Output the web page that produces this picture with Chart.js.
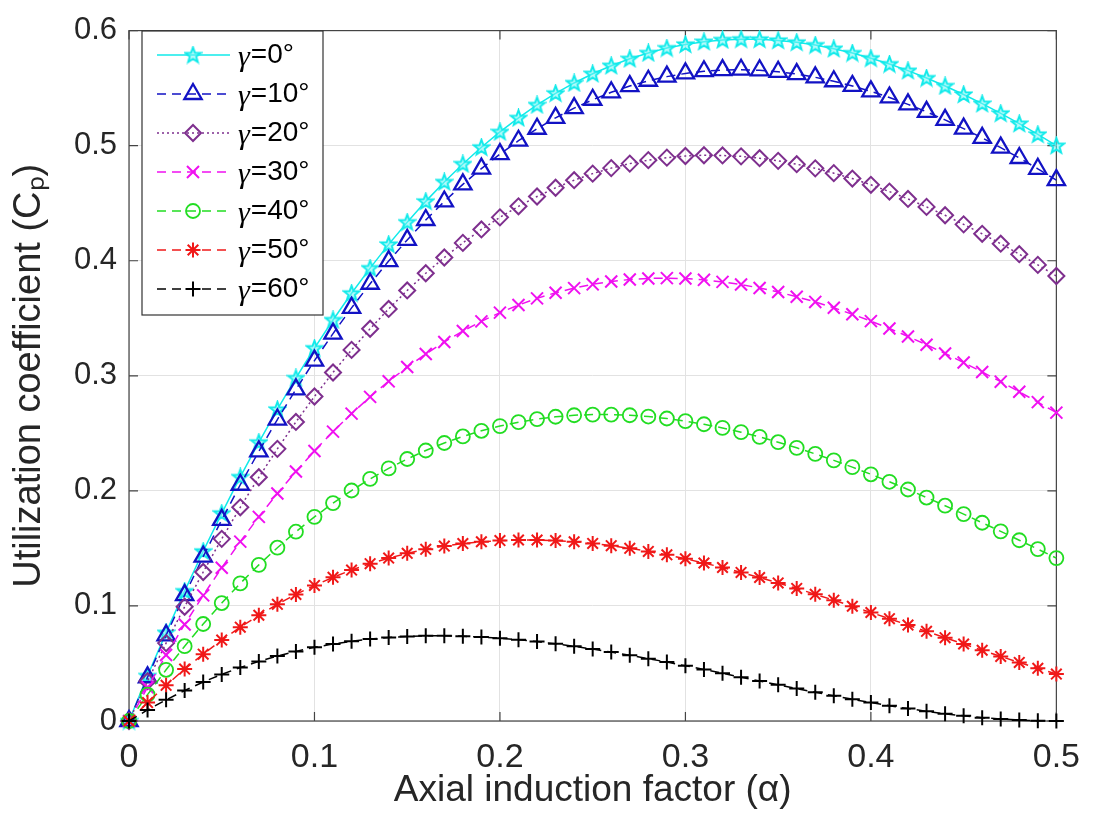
<!DOCTYPE html>
<html><head><meta charset="utf-8">
<script src="https://cdn.jsdelivr.net/npm/chart.js@4.4.1/dist/chart.umd.min.js"></script>
<style>html,body{margin:0;padding:0;background:#fff}#wrap{width:1096px;height:816px}</style>
</head><body><div id="wrap"><canvas id="c" width="1096" height="816"></canvas></div>
<script>
// ---- data ----
const alpha = [0,0.01,0.02,0.03,0.04,0.05,0.06,0.07,0.08,0.09,0.10,0.11,0.12,0.13,0.14,0.15,0.16,0.17,0.18,0.19,0.20,0.21,0.22,0.23,0.24,0.25,0.26,0.27,0.28,0.29,0.30,0.31,0.32,0.33,0.34,0.35,0.36,0.37,0.38,0.39,0.40,0.41,0.42,0.43,0.44,0.45,0.46,0.47,0.48,0.49,0.50];
const cpGamma0 = [0,0.0392,0.0768,0.1129,0.1475,0.1805,0.2121,0.2422,0.2708,0.2981,0.3240,0.3485,0.3717,0.3936,0.4142,0.4335,0.4516,0.4685,0.4841,0.4986,0.5120,0.5242,0.5354,0.5455,0.5545,0.5625,0.5695,0.5755,0.5806,0.5848,0.5880,0.5904,0.5919,0.5925,0.5924,0.5915,0.5898,0.5874,0.5843,0.5805,0.5760,0.5709,0.5652,0.5588,0.5519,0.5445,0.5365,0.5281,0.5192,0.5098,0.5000];
const cpGamma10 = [0,0.0380,0.0745,0.1094,0.1428,0.1748,0.2053,0.2343,0.2620,0.2882,0.3132,0.3367,0.3590,0.3800,0.3997,0.4181,0.4354,0.4515,0.4664,0.4801,0.4927,0.5043,0.5147,0.5242,0.5326,0.5399,0.5464,0.5518,0.5564,0.5600,0.5628,0.5647,0.5657,0.5660,0.5655,0.5642,0.5622,0.5594,0.5560,0.5519,0.5472,0.5419,0.5359,0.5294,0.5224,0.5148,0.5068,0.4983,0.4893,0.4799,0.4701];
const cpGamma20 = [0,0.0346,0.0677,0.0993,0.1295,0.1583,0.1857,0.2118,0.2365,0.2599,0.2820,0.3029,0.3225,0.3409,0.3581,0.3742,0.3891,0.4028,0.4155,0.4272,0.4377,0.4473,0.4558,0.4634,0.4700,0.4757,0.4805,0.4844,0.4874,0.4896,0.4910,0.4917,0.4915,0.4907,0.4891,0.4868,0.4839,0.4803,0.4761,0.4714,0.4660,0.4601,0.4537,0.4468,0.4395,0.4316,0.4234,0.4148,0.4057,0.3964,0.3867];
const cpGamma30 = [0,0.0293,0.0573,0.0839,0.1092,0.1332,0.1559,0.1774,0.1977,0.2168,0.2347,0.2515,0.2671,0.2817,0.2952,0.3076,0.3190,0.3294,0.3389,0.3473,0.3549,0.3615,0.3673,0.3722,0.3762,0.3795,0.3820,0.3837,0.3846,0.3849,0.3845,0.3834,0.3816,0.3793,0.3763,0.3728,0.3687,0.3642,0.3591,0.3535,0.3475,0.3411,0.3342,0.3270,0.3194,0.3115,0.3033,0.2949,0.2861,0.2771,0.2680];
const cpGamma40 = [0,0.0229,0.0445,0.0650,0.0843,0.1025,0.1196,0.1357,0.1506,0.1645,0.1774,0.1894,0.2003,0.2104,0.2195,0.2277,0.2351,0.2416,0.2473,0.2522,0.2563,0.2597,0.2624,0.2644,0.2657,0.2663,0.2663,0.2657,0.2646,0.2629,0.2606,0.2579,0.2547,0.2510,0.2469,0.2423,0.2374,0.2321,0.2265,0.2206,0.2144,0.2079,0.2012,0.1942,0.1871,0.1798,0.1723,0.1648,0.1571,0.1494,0.1416];
const cpGamma50 = [0,0.0160,0.0310,0.0451,0.0581,0.0703,0.0815,0.0919,0.1014,0.1100,0.1178,0.1249,0.1312,0.1367,0.1416,0.1457,0.1492,0.1520,0.1542,0.1558,0.1568,0.1573,0.1573,0.1568,0.1558,0.1543,0.1524,0.1501,0.1474,0.1444,0.1410,0.1373,0.1334,0.1291,0.1247,0.1200,0.1152,0.1101,0.1050,0.0997,0.0943,0.0889,0.0834,0.0779,0.0724,0.0669,0.0615,0.0561,0.0509,0.0458,0.0408];
const cpGamma60 = [0,0.0096,0.0184,0.0265,0.0339,0.0405,0.0465,0.0518,0.0564,0.0605,0.0640,0.0669,0.0693,0.0712,0.0726,0.0735,0.0740,0.0741,0.0737,0.0730,0.0720,0.0706,0.0690,0.0671,0.0649,0.0625,0.0599,0.0571,0.0542,0.0512,0.0480,0.0448,0.0415,0.0381,0.0348,0.0315,0.0282,0.0250,0.0219,0.0189,0.0160,0.0133,0.0108,0.0084,0.0063,0.0045,0.0029,0.0017,0.0008,0.0002,0];
const gammaLabels = ['0°','10°','20°','30°','40°','50°','60°'];
const xTickValues = [0,0.1,0.2,0.3,0.4,0.5];
const xTickLabels = ['0','0.1','0.2','0.3','0.4','0.5'];
const yTickValues = [0,0.1,0.2,0.3,0.4,0.5,0.6];
const yTickLabels = ['0','0.1','0.2','0.3','0.4','0.5','0.6'];
const xTitle = 'Axial induction factor (α)';
const yTitle = 'Utilization coefficient (Cₚ)';

// ---- styles ----
function makePentagram(color){
  const c=document.createElement('canvas'); c.width=19; c.height=19;
  const g=c.getContext('2d'); g.strokeStyle=color; g.lineWidth=1.9; g.lineJoin='miter';
  g.fillStyle='rgba(120,245,245,0.55)';
  g.beginPath();
  for(let k=0;k<10;k++){
    const r = (k%2) ? 3.4 : 8.2;
    const ang = -Math.PI/2 + k*Math.PI/5;
    const px = 9.5 + r*Math.cos(ang), py = 10 + r*Math.sin(ang);
    if(k===0) g.moveTo(px,py); else g.lineTo(px,py);
  }
  g.closePath(); g.fill(); g.stroke();
  return c;
}
const seriesValues = [cpGamma0,cpGamma10,cpGamma20,cpGamma30,cpGamma40,cpGamma50,cpGamma60];
const seriesColors = ['#10EAEA','#1212C4','#7E2F8E','#F010F0','#22DD22','#F01818','#000000'];
const seriesDash = [[],[9,6],[2,3],[9,6],[9,6],[9,6],[9,6]];
const seriesPoint = [makePentagram('#10EAEA'),'triangle','rectRot','crossRot','circle','star','cross'];
const seriesRadius = [7,10,8,8.5,7,7.5,7.5];
const seriesPBW = [1.8,2.3,2,2,1.8,2,2];

const datasets = seriesValues.map((vals,i)=>({
  label: 'γ=' + gammaLabels[i],
  data: vals.map((v,j)=>({x:alpha[j], y:v})),
  borderColor: seriesColors[i],
  borderWidth: 1.5,
  borderDash: seriesDash[i],
  pointStyle: seriesPoint[i],
  pointRadius: seriesRadius[i],
  pointHoverRadius: seriesRadius[i],
  pointBorderColor: seriesColors[i],
  pointBackgroundColor: 'rgba(0,0,0,0)',
  pointBorderWidth: seriesPBW[i],
  tension: 0,
  fill: false,
  clip: false,
  order: 6 - i
}));

const boxPlugin = {
  id:'boxTicks',
  beforeDatasetsDraw(chart){
    const {ctx, chartArea:a, scales:{x,y}} = chart;
    ctx.save();
    ctx.strokeStyle='#444'; ctx.lineWidth=1.2;
    ctx.strokeRect(a.left, a.top, a.right-a.left, a.bottom-a.top);
    const L=9;
    ctx.beginPath();
    xTickValues.forEach(v=>{const px=x.getPixelForValue(v); ctx.moveTo(px,a.bottom); ctx.lineTo(px,a.bottom-L); ctx.moveTo(px,a.top); ctx.lineTo(px,a.top+L);});
    yTickValues.forEach(v=>{const py=y.getPixelForValue(v); ctx.moveTo(a.left,py); ctx.lineTo(a.left+L,py); ctx.moveTo(a.right,py); ctx.lineTo(a.right-L,py);});
    ctx.stroke(); ctx.restore();
  }
};

const legendPlugin = {
  id:'matLegend',
  afterDraw(chart){
    const ctx=chart.ctx; const x0=142,y0=31,w=181,h=284;
    ctx.save();
    ctx.fillStyle='#fff'; ctx.fillRect(x0,y0,w,h);
    ctx.strokeStyle='#333'; ctx.lineWidth=1.2; ctx.strokeRect(x0,y0,w,h);
    chart.data.datasets.forEach((ds,i)=>{
      const yy = 55 + i*39;
      ctx.save();
      ctx.strokeStyle=ds.borderColor; ctx.lineWidth=ds.borderWidth; ctx.setLineDash(ds.borderDash);
      ctx.beginPath(); ctx.moveTo(157,yy); ctx.lineTo(230,yy); ctx.stroke();
      ctx.setLineDash([]);
      ctx.strokeStyle=ds.pointBorderColor; ctx.fillStyle='rgba(0,0,0,0)'; ctx.lineWidth=ds.pointBorderWidth;
      Chart.helpers.drawPoint(ctx,{pointStyle:ds.pointStyle,radius:ds.pointRadius,borderWidth:ds.pointBorderWidth,rotation:0},193,yy);
      ctx.restore();
      ctx.fillStyle='#000'; ctx.textBaseline='middle'; ctx.textAlign='left';
      ctx.font='italic 30px "Liberation Serif"';
      ctx.fillText('γ',238,yy+3);
      const gw=ctx.measureText('γ').width;
      ctx.font='28px "Liberation Sans"';
      ctx.fillText('='+gammaLabels[i],238+gw+1,yy);
    });
    ctx.restore();
  }
};

new Chart(document.getElementById('c'), {
  type:'line',
  data:{datasets},
  options:{
    responsive:false, animation:false, devicePixelRatio:1,
    layout:{padding:{left:0,right:34,top:21,bottom:0}},
    plugins:{legend:{display:false}, tooltip:{enabled:false}},
    scales:{
      x:{
        type:'linear', min:0, max:0.5,
        afterBuildTicks:s=>{s.ticks = xTickValues.map(v=>({value:v}));},
        afterFit:s=>{s.height=95;},
        ticks:{autoSkip:false, maxRotation:0, padding:16, color:'#262626',
          font:{family:'"Liberation Sans", Arial, sans-serif', size:34},
          callback:(v)=>xTickLabels[Math.round(v*10)]},
        grid:{color:'#e2e2e2', lineWidth:1, drawTicks:false},
        border:{display:false},
        title:{display:true, text:xTitle, color:'#262626',
          font:{family:'"Liberation Sans", Arial, sans-serif', size:37}, padding:{top:0,bottom:3}}
      },
      y:{
        type:'linear', min:0, max:0.6,
        afterBuildTicks:s=>{s.ticks = yTickValues.map(v=>({value:v}));},
        afterFit:s=>{s.width=129;},
        ticks:{autoSkip:false, padding:12, color:'#262626',
          font:{family:'"Liberation Sans", Arial, sans-serif', size:31},
          callback:(v)=>yTickLabels[Math.round(v*10)]},
        grid:{color:'#e2e2e2', lineWidth:1, drawTicks:false},
        border:{display:false},
        title:{display:true, text:yTitle, color:'#262626',
          font:{family:'"Liberation Sans", Arial, sans-serif', size:38}, padding:{top:7,bottom:0}}
      }
    }
  },
  plugins:[boxPlugin, legendPlugin]
});
</script></body></html>
